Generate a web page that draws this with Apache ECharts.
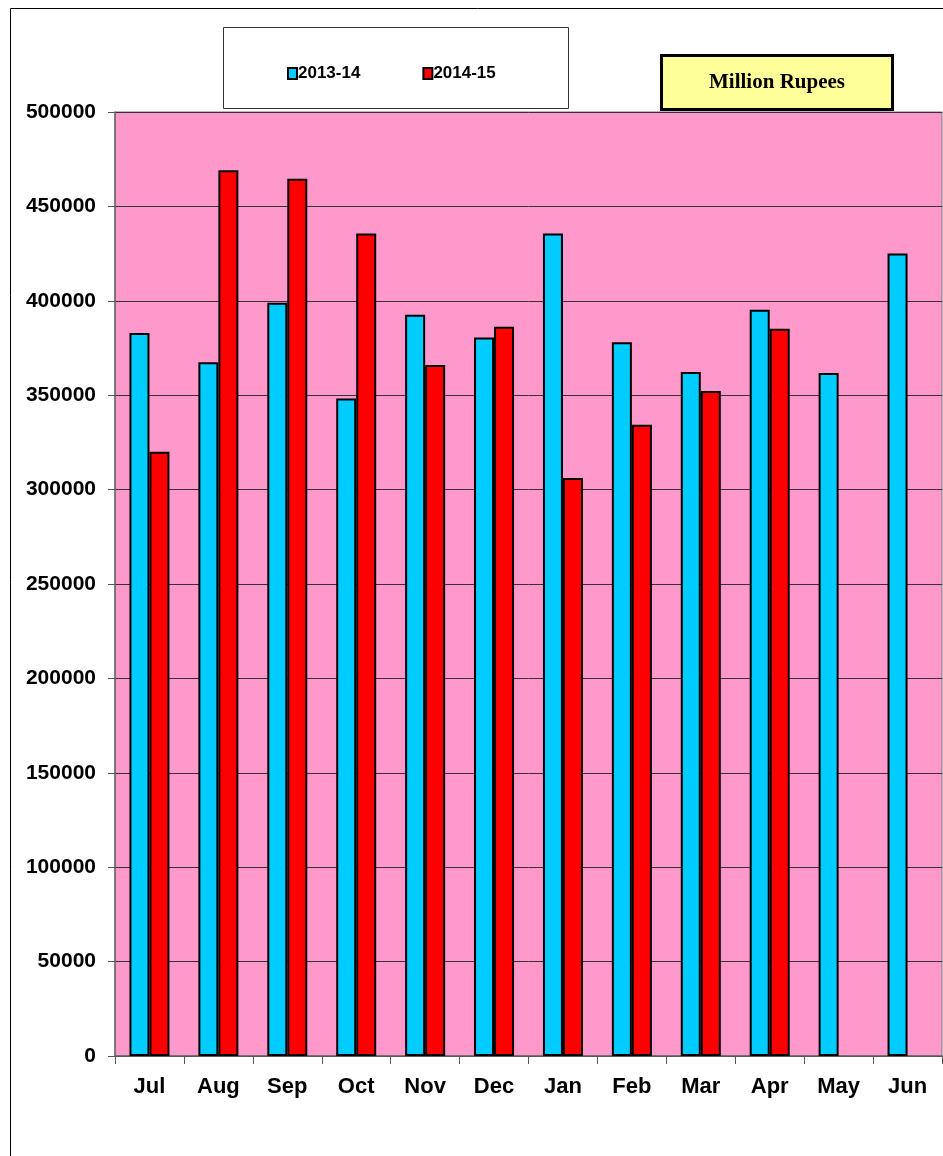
<!DOCTYPE html>
<html>
<head>
<meta charset="utf-8">
<script src="https://cdn.jsdelivr.net/npm/echarts@6/dist/echarts.min.js"></script>
<style>
  html, body { margin: 0; padding: 0; background: #fff; }
  #chart { width: 943px; height: 1156px; }
</style>
</head>
<body>
<div id="chart"></div>
<script>
// months of the fiscal year
let months = ['Jul', 'Aug', 'Sep', 'Oct', 'Nov', 'Dec', 'Jan', 'Feb', 'Mar', 'Apr', 'May', 'Jun'];
// million rupees
let fy1314 = [383000, 367500, 399000, 348300, 392600, 380500, 435700, 378000, 362300, 395300, 361800, 425100];
let fy1415 = [320000, 469100, 464700, 435700, 366000, 386300, 306100, 334400, 352200, 385200, null, null];
let seriesNames = ['2013-14', '2014-15'];
let unitText = 'Million Rupees';

let narrow = '"Liberation Sans Narrow", "Arial Narrow", "Liberation Sans", Arial, sans-serif';

let chart = echarts.init(document.getElementById('chart'));

let option = {
    animation: false,
    backgroundColor: '#fff',
    graphic: [
        // outer frame of the chart
        {
            type: 'rect',
            shape: { x: 10.5, y: 8.5, width: 960, height: 1200 },
            style: { fill: 'none', stroke: '#000', lineWidth: 1 },
            z: 0
        },
        // legend box
        {
            type: 'rect',
            shape: { x: 223.5, y: 27.5, width: 345, height: 81 },
            style: { fill: '#fff', stroke: '#333', lineWidth: 1 },
            z: 1
        },
        // unit label
        {
            type: 'group',
            left: 660,
            top: 54,
            z: 5,
            children: [
                {
                    type: 'rect',
                    shape: { x: 1.5, y: 1.5, width: 231, height: 54 },
                    style: { fill: '#FFFF99', stroke: '#000', lineWidth: 3 }
                },
                {
                    type: 'text',
                    x: 117,
                    y: 29,
                    style: {
                        text: unitText,
                        fill: '#000',
                        font: 'bold 21px "Liberation Serif", "Times New Roman", serif',
                        align: 'center',
                        verticalAlign: 'middle'
                    }
                }
            ]
        }
    ],
    legend: {
        data: seriesNames,
        left: 282,
        top: 60,
        itemWidth: 9,
        itemHeight: 11,
        itemGap: 62,
        icon: 'rect',
        z: 3,
        textStyle: {
            fontFamily: narrow,
            fontWeight: 'bold',
            fontSize: 17,
            color: '#000',
            padding: [0, 0, 0, -4]
        }
    },
    grid: {
        left: 115,
        right: 1,
        top: 112,
        bottom: 100,
        show: true,
        backgroundColor: '#FF99CC',
        borderColor: '#777',
        borderWidth: 1
    },
    xAxis: {
        type: 'category',
        data: months,
        axisLine: { lineStyle: { color: '#666', width: 1.5 } },
        axisTick: { show: true, alignWithLabel: false, length: 8, lineStyle: { color: '#555' } },
        axisLabel: {
            color: '#000',
            fontFamily: narrow,
            fontWeight: 'bold',
            fontSize: 22,
            margin: 20
        }
    },
    yAxis: {
        type: 'value',
        min: 0,
        max: 500000,
        interval: 50000,
        axisLine: { show: true, lineStyle: { color: '#666', width: 1.5 } },
        axisTick: { show: true, length: 7, lineStyle: { color: '#555' } },
        splitLine: { lineStyle: { color: '#333', width: 1 } },
        axisLabel: {
            color: '#000',
            fontFamily: narrow,
            fontWeight: 'bold',
            fontSize: 21,
            margin: 19,
            formatter: (v) => String(v)
        }
    },
    series: [
        {
            name: seriesNames[0],
            type: 'bar',
            data: fy1314,
            barWidth: 20,
            barGap: '0%',
            itemStyle: { color: '#00CCFF', borderColor: '#000', borderWidth: 2 }
        },
        {
            name: seriesNames[1],
            type: 'bar',
            data: fy1415,
            barWidth: 20,
            barGap: '0%',
            itemStyle: { color: '#FF0000', borderColor: '#000', borderWidth: 2 }
        }
    ]
};

chart.setOption(option);
</script>
</body>
</html>
